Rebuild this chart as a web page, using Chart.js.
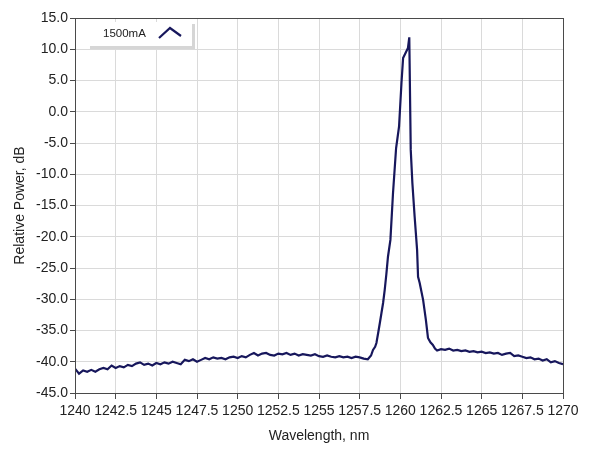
<!DOCTYPE html>
<html>
<head>
<meta charset="utf-8">
<script src="https://cdn.jsdelivr.net/npm/chart.js@4/dist/chart.umd.min.js"></script>
<style>
    body { margin: 0; background: #fff; }
    #wrap { width: 589px; height: 456px; }
</style>
</head>
<body>
<div id="wrap"><canvas id="spectrum" width="589" height="456"></canvas></div>
<script>
// Spectrum data (nm, dB)
const wavelengths = [
    1240, 1240.25, 1240.5, 1240.75, 1241, 1241.25, 1241.5, 1241.75,
    1242, 1242.25, 1242.5, 1242.75, 1243, 1243.25, 1243.5, 1243.75,
    1244, 1244.25, 1244.5, 1244.75, 1245, 1245.25, 1245.5, 1245.75,
    1246, 1246.25, 1246.5, 1246.75, 1247, 1247.25, 1247.5, 1247.75,
    1248, 1248.25, 1248.5, 1248.75, 1249, 1249.25, 1249.5, 1249.75,
    1250, 1250.25, 1250.5, 1250.75, 1251, 1251.25, 1251.5, 1251.75,
    1252, 1252.25, 1252.5, 1252.75, 1253, 1253.25, 1253.5, 1253.75,
    1254, 1254.25, 1254.5, 1254.75, 1255, 1255.25, 1255.5, 1255.75,
    1256, 1256.25, 1256.5, 1256.75, 1257, 1257.25, 1257.5, 1257.75,
    1258,
    // peak region
    1258.2, 1258.32, 1258.45, 1258.53, 1258.65, 1258.74, 1258.84, 1258.94,
    1259.04, 1259.14, 1259.24, 1259.39, 1259.55, 1259.74, 1259.92, 1260.07,
    1260.17, 1260.32, 1260.47, 1260.55, 1260.64, 1260.74, 1260.88, 1261.03,
    1261.09, 1261.19, 1261.4, 1261.57, 1261.7, 1261.85, 1262, 1262.13,
    1262.26,
    1262.5, 1262.75, 1263, 1263.25, 1263.5, 1263.75, 1264, 1264.25,
    1264.5, 1264.75, 1265, 1265.25, 1265.5, 1265.75, 1266, 1266.25,
    1266.5, 1266.75, 1267, 1267.25, 1267.5, 1267.75, 1268, 1268.25,
    1268.5, 1268.75, 1269, 1269.25, 1269.5, 1269.75, 1270
];

const power1500 = [
    -41.1, -41.9, -41.4, -41.6, -41.3, -41.6, -41.2, -41.0,
    -41.2, -40.6, -41.0, -40.7, -40.9, -40.5, -40.7, -40.3,
    -40.1, -40.5, -40.3, -40.6, -40.2, -40.4, -40.1, -40.3,
    -40.0, -40.2, -40.4, -39.7, -39.9, -39.6, -40.0, -39.7,
    -39.4, -39.6, -39.3, -39.5, -39.4, -39.6, -39.3, -39.2,
    -39.4, -39.1, -39.3, -38.9, -38.6, -39.0, -38.7, -38.6,
    -38.9, -39.0, -38.7, -38.8, -38.6, -38.9, -38.7, -39.0,
    -38.8, -38.9, -39.0, -38.8, -39.1, -39.2, -39.0, -39.2,
    -39.3, -39.1, -39.3, -39.2, -39.4, -39.2, -39.3, -39.5,
    -39.6,
    -39.0, -38.1, -37.6, -37.0, -35.2, -33.8, -32.2, -30.6,
    -28.5, -26.0, -23.2, -20.5, -13.0, -5.8, -2.4, 4.6,
    8.6, 9.4, 10.2, 11.9, -6.1, -11.4, -16.8, -22.1,
    -26.4, -27.4, -30.1, -33.3, -36.2, -36.9, -37.3, -37.9,
    -38.2,
    -38.0, -38.1, -37.9, -38.2, -38.1, -38.3, -38.2, -38.4,
    -38.3, -38.5, -38.4, -38.6, -38.5, -38.7, -38.6, -38.9,
    -38.7, -38.6, -39.1, -39.0, -39.2, -39.4, -39.3, -39.6,
    -39.5, -39.8, -39.6, -40.1, -39.9, -40.2, -40.4
];

const seriesName = '1500mA';
const xTitle = 'Wavelength, nm';
const yTitle = 'Relative Power, dB';
const lineColor = '#17175c';
const fontFamily = '"Liberation Sans", Arial, sans-serif';

// Draws the box frame and the little legend in the top left corner
const frameAndLegend = {
    id: 'frameAndLegend',
    afterDraw(chart) {
        const ctx = chart.ctx;
        const a = chart.chartArea;
        ctx.save();
        ctx.strokeStyle = '#4a4a4a';
        ctx.lineWidth = 1;
        ctx.strokeRect(Math.round(a.left) + 0.5, Math.round(a.top) + 0.5,
            Math.round(a.right - a.left), Math.round(a.bottom - a.top));

        // legend box with its grey shadow
        const bx = a.left + 15, by = a.top + 4, bw = 102, bh = 24;
        ctx.fillStyle = '#ffffff';
        ctx.fillRect(bx, by, bw, bh);
        ctx.fillStyle = '#d6d6d6';
        ctx.fillRect(bx + bw, by + 2, 3, bh + 1);
        ctx.fillRect(bx, by + bh, bw + 3, 3);

        ctx.fillStyle = '#222';
        ctx.font = '11.5px ' + fontFamily;
        ctx.textBaseline = 'middle';
        ctx.fillText(seriesName, bx + 13, by + 12);

        ctx.strokeStyle = lineColor;
        ctx.lineWidth = 2.2;
        ctx.beginPath();
        ctx.moveTo(bx + 69, by + 16);
        ctx.lineTo(bx + 80, by + 6);
        ctx.lineTo(bx + 91, by + 14);
        ctx.stroke();
        ctx.restore();
    }
};

const points = wavelengths.map((w, i) => ({ x: w, y: power1500[i] }));

new Chart(document.getElementById('spectrum').getContext('2d'), {
    type: 'line',
    data: {
        datasets: [{
            label: seriesName,
            data: points,
            borderColor: lineColor,
            borderWidth: 2.2,
            pointRadius: 0,
            tension: 0,
            fill: false
        }]
    },
    options: {
        responsive: false,
        animation: false,
        layout: { padding: { top: 18, right: 26, left: 0, bottom: 0 } },
        plugins: {
            legend: { display: false },
            tooltip: { enabled: false }
        },
        scales: {
            x: {
                type: 'linear',
                min: 1240,
                max: 1270,
                afterFit: scale => { scale.height = 63; },
                border: { color: '#4a4a4a' },
                grid: { color: '#dadada', tickColor: '#4a4a4a', tickLength: 6 },
                ticks: {
                    stepSize: 2.5,
                    autoSkip: false,
                    maxRotation: 0,
                    padding: 4,
                    color: '#222',
                    font: { family: fontFamily, size: 14 },
                    callback: v => String(v)
                },
                title: {
                    display: true,
                    text: xTitle,
                    color: '#222',
                    padding: { top: 0, bottom: 11 },
                    font: { family: fontFamily, size: 14 }
                }
            },
            y: {
                min: -45,
                max: 15,
                afterFit: scale => { scale.width = 75; },
                border: { color: '#4a4a4a' },
                grid: { color: '#dadada', tickColor: '#4a4a4a', tickLength: 5 },
                ticks: {
                    stepSize: 5,
                    padding: 2,
                    color: '#222',
                    font: { family: fontFamily, size: 14 },
                    callback: v => v.toFixed(1)
                },
                title: {
                    display: true,
                    text: yTitle,
                    color: '#222',
                    padding: { top: 12, bottom: 0 },
                    font: { family: fontFamily, size: 14 }
                }
            }
        }
    },
    plugins: [frameAndLegend]
});
</script>
</body>
</html>
